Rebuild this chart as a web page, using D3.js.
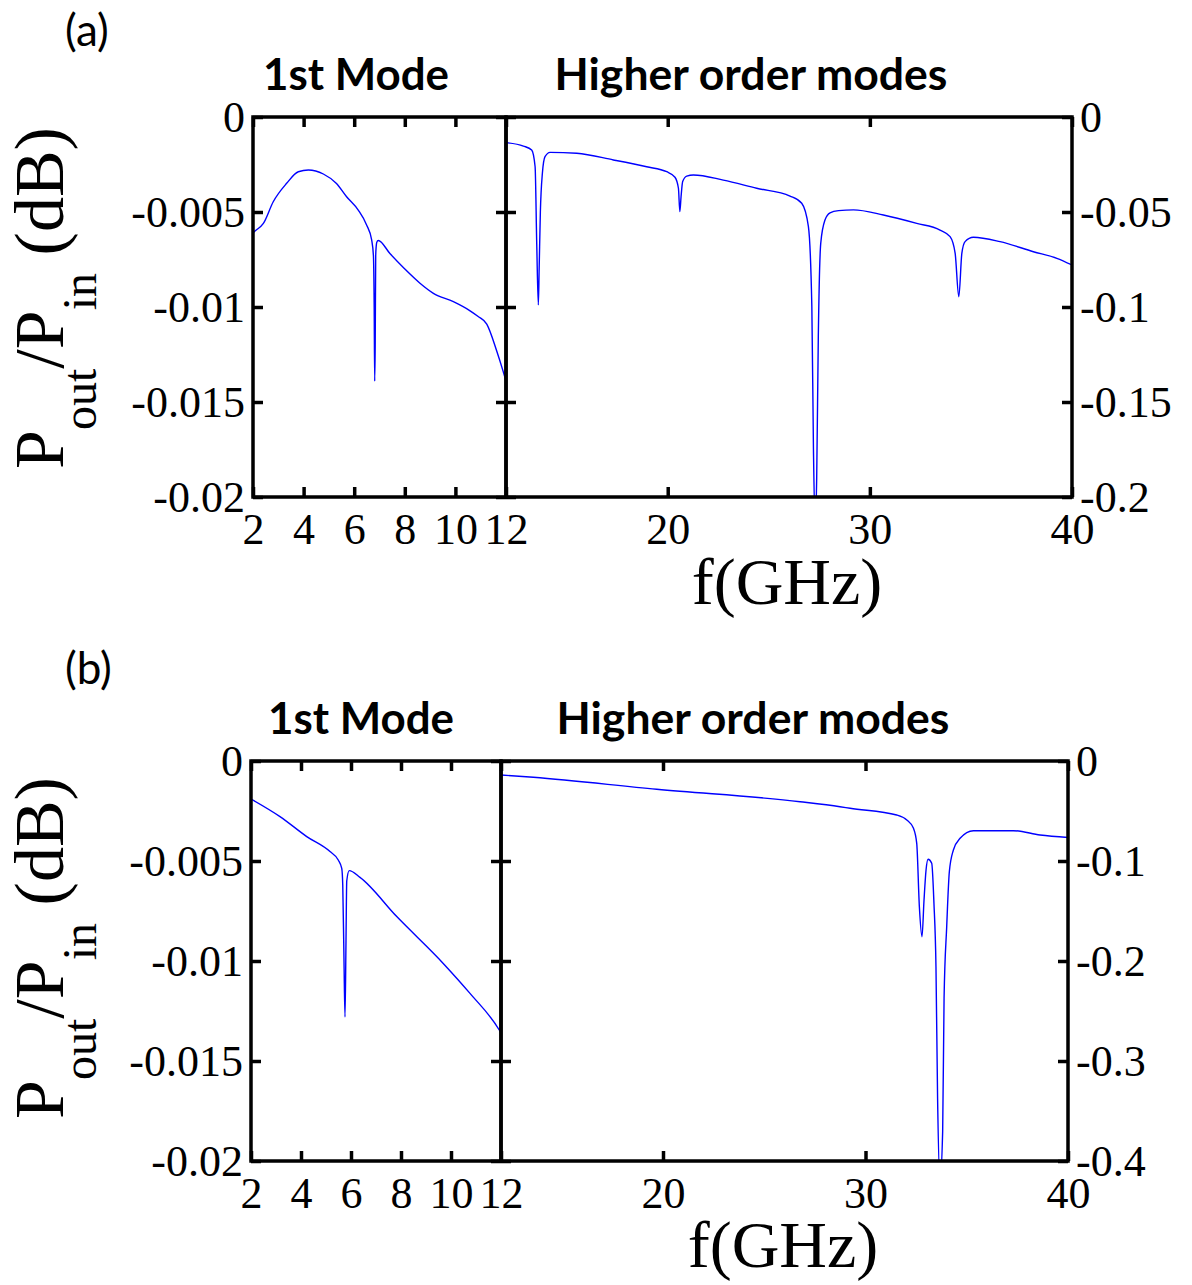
<!DOCTYPE html>
<html>
<head>
<meta charset="utf-8">
<script src="https://cdn.jsdelivr.net/npm/d3@7"></script>
<style>
  body { margin: 0; background: #fff; }
  svg { display: block; }
</style>
</head>
<body>
<svg id="chart" width="1192" height="1285"></svg>
<script>
// [frequency GHz, Pout/Pin dB]
const modeA1 = [[2.00,-0.0061],[2.08,-0.0060],[2.41,-0.0056],[2.80,-0.00446],[3.33,-0.00349],[3.79,-0.00288],
  [4.19,-0.00279],[4.78,-0.0030],[5.30,-0.0035],[5.70,-0.0042],[6.16,-0.0049],[6.49,-0.00568],[6.69,-0.00647],
  [6.76,-0.0073],[6.79,-0.0100],[6.81,-0.0139],[6.83,-0.0120],[6.85,-0.0073],[6.87,-0.0068],[6.89,-0.0066],
  [6.95,-0.0065],[7.42,-0.0072],[8.00,-0.0080],[8.60,-0.00875],[9.13,-0.00928],[9.92,-0.00972],[10.58,-0.0102],
  [10.90,-0.0105],[11.24,-0.0109],[11.63,-0.0123],[11.89,-0.0134],[12.00,-0.0139]];
const higherA = [[12.0,-0.0135],[12.86,-0.0153],[13.27,-0.0174],[13.44,-0.0262],[13.52,-0.0665],[13.60,-0.0989],
  [13.64,-0.080],[13.70,-0.050],[13.80,-0.0296],[13.93,-0.0209],[14.18,-0.0186],[15.5,-0.0191],[17.31,-0.0226],
  [18.96,-0.0262],[19.95,-0.0288],[20.36,-0.0317],[20.53,-0.0375],[20.60,-0.0498],[20.66,-0.042],[20.74,-0.034],
  [20.94,-0.0311],[21.27,-0.0305],[22.75,-0.0332],[24.40,-0.0375],[26.05,-0.0416],[26.63,-0.0454],[26.96,-0.0577],
  [27.13,-0.0998],[27.21,-0.175],[27.29,-0.215],[27.37,-0.19],[27.45,-0.1156],[27.57,-0.0665],[27.78,-0.0542],
  [28.03,-0.0504],[28.45,-0.0493],[29.19,-0.0489],[30.67,-0.0516],[32.32,-0.056],[33.47,-0.0595],[33.97,-0.063],
  [34.22,-0.0718],[34.40,-0.0946],[34.55,-0.0718],[34.71,-0.0656],[35.12,-0.0633],[36.44,-0.0656],[38.09,-0.0709],
  [39.25,-0.0744],[40.0,-0.0779]];
const modeB1 = [[2.0,-0.0019],[3.16,-0.00278],[4.23,-0.00378],[5.16,-0.00453],[5.49,-0.00495],[5.63,-0.00537],
  [5.67,-0.0062],[5.72,-0.0100],[5.76,-0.0128],[5.80,-0.0090],[5.83,-0.0060],[5.93,-0.00548],[6.36,-0.00582],
  [7.83,-0.00778],[9.69,-0.01012],[10.76,-0.01162],[11.93,-0.01345],[12.0,-0.0136]];
const higherB = [[12.0,-0.0140],[13.6,-0.0163],[19.69,-0.0283],[26.77,-0.0407],[28.74,-0.0457],[29.24,-0.0473],
  [31.54,-0.054],[32.04,-0.059],[32.37,-0.0673],[32.53,-0.0823],[32.66,-0.1457],[32.79,-0.1757],[32.89,-0.139],
  [32.99,-0.109],[33.09,-0.0983],[33.27,-0.1023],[33.38,-0.1423],[33.48,-0.2057],[33.56,-0.3373],[33.68,-0.42],
  [33.81,-0.3707],[33.88,-0.2373],[34.01,-0.1657],[34.14,-0.1107],[34.34,-0.089],[34.67,-0.0773],[35.33,-0.0697],
  [37.3,-0.0697],[38.62,-0.074],[40.0,-0.0765]];

const leftFreqTicks = [2, 4, 6, 8, 10, 12];
const rightFreqTicks = [20, 30, 40];
const leftLossTicks = [0, -0.005, -0.01, -0.015, -0.02];
const leftLossLabels = ["0", "-0.005", "-0.01", "-0.015", "-0.02"];
const rightTicksA = [0, -0.05, -0.1, -0.15, -0.2];
const rightLabelsA = ["0", "-0.05", "-0.1", "-0.15", "-0.2"];
const rightTicksB = [0, -0.1, -0.2, -0.3, -0.4];
const rightLabelsB = ["0", "-0.1", "-0.2", "-0.3", "-0.4"];

const serif = "'Liberation Serif', 'Times New Roman', serif";
const sans = "Lato, 'Open Sans', sans-serif";

const svg = d3.select("#chart");
const defs = svg.append("defs");

function fitText(t, w) {
  const len = t.node().getComputedTextLength();
  t.attr("font-size", +t.attr("font-size") * w / len);
}

function drawPanel(c) {
  const g = svg.append("g");
  const x1 = d3.scaleLinear().domain([2, 12]).range([c.left, c.mid]);
  const x2 = d3.scaleLinear().domain([12, 40]).range([c.mid, c.right]);
  const y1 = d3.scaleLinear().domain([-0.02, 0]).range([c.bottom, c.top]);
  const y2 = d3.scaleLinear().domain([c.rightTicks[c.rightTicks.length - 1], 0]).range([c.bottom, c.top]);

  defs.append("clipPath").attr("id", c.id + "c1").append("rect")
    .attr("x", c.left).attr("y", c.top).attr("width", c.mid - c.left).attr("height", c.bottom - c.top);
  defs.append("clipPath").attr("id", c.id + "c2").append("rect")
    .attr("x", c.mid).attr("y", c.top).attr("width", c.right - c.mid).attr("height", c.bottom - c.top);

  g.append("path").datum(c.first)
    .attr("clip-path", `url(#${c.id}c1)`)
    .attr("fill", "none").attr("stroke", "#0000ff").attr("stroke-width", 1.4)
    .attr("d", d3.line().curve(d3.curveMonotoneX).x(d => x1(d[0])).y(d => y1(d[1])));
  g.append("path").datum(c.higher)
    .attr("clip-path", `url(#${c.id}c2)`)
    .attr("fill", "none").attr("stroke", "#0000ff").attr("stroke-width", 1.4)
    .attr("d", d3.line().curve(d3.curveMonotoneX).x(d => x2(d[0])).y(d => y2(d[1])));

  function addAxis(axis, tx, ty, showText) {
    const a = g.append("g").attr("transform", `translate(${tx},${ty})`).call(axis);
    a.select(".domain").remove();
    a.selectAll(".tick line").attr("stroke", "#000").attr("stroke-width", 3.5);
    if (showText) {
      a.selectAll(".tick text").attr("font-family", serif).attr("font-size", 44).attr("fill", "#000");
    } else {
      a.selectAll(".tick text").remove();
    }
  }

  const ax = (a, vals) => a.tickValues(vals).tickSize(-10).tickSizeOuter(0);
  addAxis(ax(d3.axisBottom(x1), leftFreqTicks).tickPadding(16), 0, c.bottom, true);
  addAxis(ax(d3.axisTop(x1), leftFreqTicks), 0, c.top, false);
  addAxis(ax(d3.axisBottom(x2), rightFreqTicks).tickPadding(16), 0, c.bottom, true);
  addAxis(ax(d3.axisTop(x2), rightFreqTicks), 0, c.top, false);

  addAxis(ax(d3.axisLeft(y1), leftLossTicks).tickPadding(8).tickFormat((d, i) => leftLossLabels[i]), c.left, 0, true);
  addAxis(ax(d3.axisRight(y1), leftLossTicks), c.mid, 0, false);
  addAxis(ax(d3.axisLeft(y2), c.rightTicks), c.mid, 0, false);
  addAxis(ax(d3.axisRight(y2), c.rightTicks).tickPadding(8).tickFormat((d, i) => c.rightLabels[i]), c.right, 0, true);

  // frames
  g.append("rect").attr("x", c.left).attr("y", c.top).attr("width", c.mid - c.left).attr("height", c.bottom - c.top)
    .attr("fill", "none").attr("stroke", "#000").attr("stroke-width", 3.5);
  g.append("rect").attr("x", c.mid).attr("y", c.top).attr("width", c.right - c.mid).attr("height", c.bottom - c.top)
    .attr("fill", "none").attr("stroke", "#000").attr("stroke-width", 3.5);

  // panel tag and titles
  g.append("text").attr("x", 65).attr("y", c.tagY).attr("font-family", sans).attr("font-size", 44)
    .attr("fill", "#000").text(c.tag);
  const t1 = g.append("text").attr("x", c.t1x).attr("y", c.titleY).attr("text-anchor", "middle")
    .attr("font-family", sans).attr("font-weight", "bold").attr("font-size", 40).attr("fill", "#000").text("1st Mode");
  fitText(t1, 186);
  const t2 = g.append("text").attr("x", c.t2x).attr("y", c.titleY).attr("text-anchor", "middle")
    .attr("font-family", sans).attr("font-weight", "bold").attr("font-size", 40).attr("fill", "#000").text("Higher order modes");
  fitText(t2, 393);

  // x label
  g.append("text").attr("x", c.xLabelX).attr("y", c.xLabelY).attr("text-anchor", "middle")
    .attr("font-family", serif).attr("font-size", 66).attr("fill", "#000").text("f(GHz)");

  // y label
  const yl = g.append("text")
    .attr("transform", `translate(63,${c.yLabelY}) rotate(-90)`)
    .attr("text-anchor", "middle").attr("font-family", serif).attr("font-size", 70).attr("fill", "#000");
  yl.append("tspan").text("P");
  yl.append("tspan").attr("font-size", 48).attr("dy", 33).text("out");
  yl.append("tspan").attr("dy", -33).text("/P");
  yl.append("tspan").attr("font-size", 48).attr("dy", 33).text("in");
  yl.append("tspan").attr("dy", -33).text(" (dB)");
}

drawPanel({
  id: "a", tag: "(a)", tagY: 46, titleY: 90, t1x: 356, t2x: 751,
  top: 117, bottom: 497, left: 253, mid: 506, right: 1072,
  first: modeA1, higher: higherA, rightTicks: rightTicksA, rightLabels: rightLabelsA,
  xLabelX: 787, xLabelY: 604, yLabelY: 298
});
drawPanel({
  id: "b", tag: "(b)", tagY: 684, titleY: 734, t1x: 361, t2x: 753,
  top: 761, bottom: 1161, left: 251, mid: 501, right: 1068,
  first: modeB1, higher: higherB, rightTicks: rightTicksB, rightLabels: rightLabelsB,
  xLabelX: 783, xLabelY: 1267, yLabelY: 948
});
</script>
</body>
</html>
